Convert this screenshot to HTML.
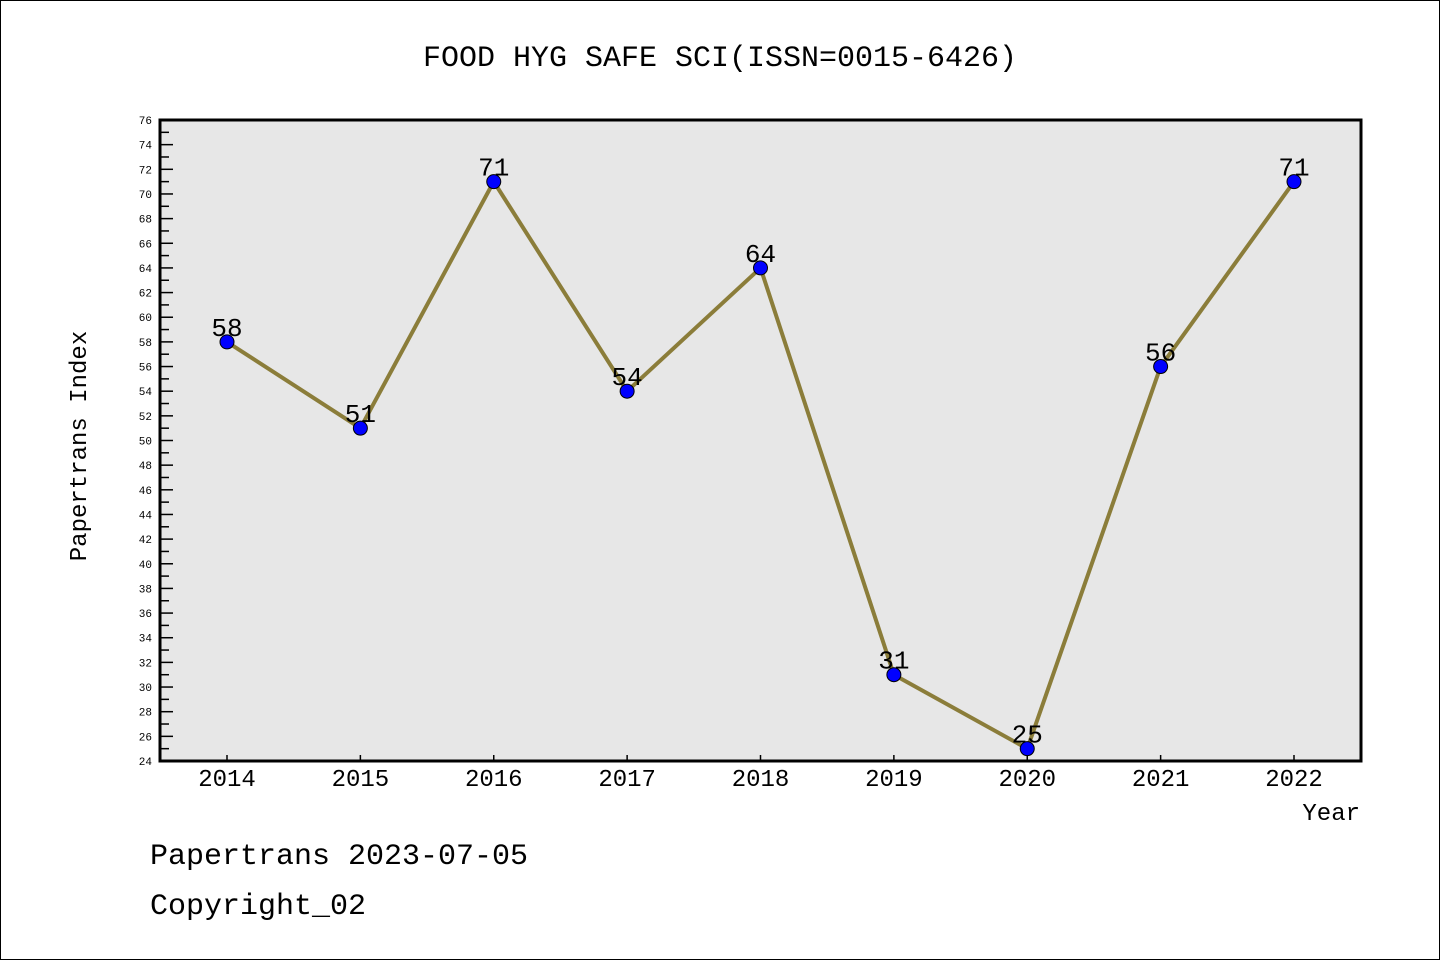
<!DOCTYPE html>
<html><head><meta charset="utf-8"><style>
body{margin:0;background:#fff}
svg{display:block}
text{font-family:"Liberation Mono","DejaVu Sans Mono",monospace}
</style></head><body>
<svg id="chart" width="1440" height="960" xmlns="http://www.w3.org/2000/svg">
<rect x="0.5" y="0.5" width="1439" height="959" fill="#fff" stroke="#000"/>
<text x="720" y="66" text-anchor="middle" font-size="30">FOOD HYG SAFE SCI(ISSN=0015-6426)</text>
<rect x="160" y="120" width="1201" height="641" fill="#e7e7e7"/>
<g id="yaxis"></g>
<g id="xaxis"></g>
<g id="series"></g>
<rect x="160" y="120" width="1201" height="641" fill="none" stroke="#000" stroke-width="3"/>
<text x="86" y="446" text-anchor="middle" font-size="24" transform="rotate(-90 86 446)">Papertrans Index</text>
<text x="1360" y="820" text-anchor="end" font-size="24">Year</text>
<text x="150" y="864" font-size="30">Papertrans 2023-07-05</text>
<text x="150" y="914" font-size="30">Copyright_02</text>
</svg>
<script>
const categories=["2014","2015","2016","2017","2018","2019","2020","2021","2022"];
const values=[58,51,71,54,64,31,25,56,71];
const yMin=24,yMax=76;
const NS="http://www.w3.org/2000/svg";
const X0=227,X1=1294,Y0=761,Y1=120;
function xs(i){return X0+(X1-X0)*i/(categories.length-1);}
function ys(v){return Y0-(v-yMin)*(Y0-Y1)/(yMax-yMin);}
function mk(tag,attrs,parent){const e=document.createElementNS(NS,tag);for(const k in attrs)e.setAttribute(k,attrs[k]);parent.appendChild(e);return e;}
const ya=document.getElementById('yaxis');
for(let v=yMin;v<=yMax;v++){
  const y=ys(v);
  if(v%2===0){
    const t=mk('line',{x1:160,x2:173,y1:y,y2:y,stroke:'#000','stroke-width':1.5},ya);
    
    
    const l=mk('text',{x:152,y:y+4,'text-anchor':'end','font-size':11,'font-family':'Liberation Sans, sans-serif'},ya);
    l.textContent=v;
    
    
  } else {
    const t=mk('line',{x1:160,x2:169,y1:y,y2:y,stroke:'#000','stroke-width':1.5},ya);
    
    
  }
}
const xa=document.getElementById('xaxis');
categories.forEach((c,i)=>{
  const x=xs(i);
  const t=mk('line',{x1:x,x2:x,y1:761,y2:755,stroke:'#000','stroke-width':1.5},xa);
  
  
  const l=mk('text',{x:x,y:786,'text-anchor':'middle','font-size':24,'font-family':'Liberation Sans, sans-serif'},xa);
  l.textContent=c;
  
  
});
const sg=document.getElementById('series');
const pts=values.map((v,i)=>xs(i)+','+ys(v)).join(' ');
const pl=mk('polyline',{points:pts,fill:'none',stroke:'#8b7d3a','stroke-width':4,'stroke-linejoin':'round'},sg);


values.forEach((v,i)=>{
  const c=mk('circle',{cx:xs(i),cy:ys(v),r:7,fill:'#0000ff',stroke:'#000','stroke-width':1},sg);
  
  
  const l=mk('text',{x:xs(i),y:ys(v)-6,'text-anchor':'middle','font-size':26,'font-family':'Liberation Sans, sans-serif'},sg);
  l.textContent=v;
  
  
});
</script>
</body></html>
